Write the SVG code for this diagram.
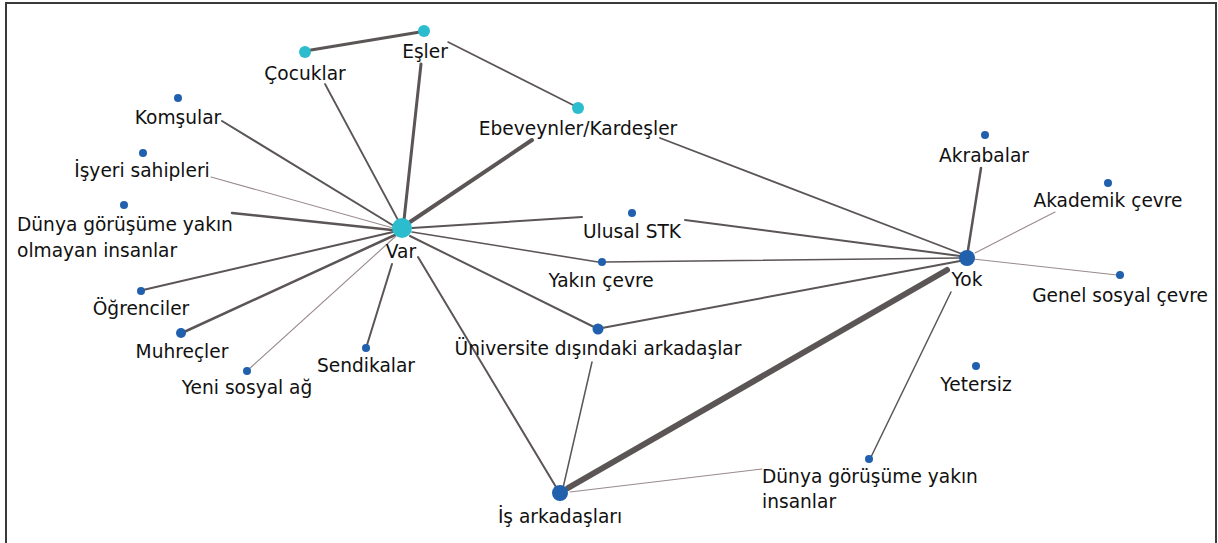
<svg xmlns="http://www.w3.org/2000/svg" width="1218" height="543" viewBox="0 0 1218 543">
<style>
.t{font-family:"DejaVu Sans","Liberation Sans",sans-serif;font-size:18.6px;fill:#111111;text-anchor:middle}
.s{text-anchor:start}
.c{fill:#2bbdcd}
.b{fill:#2060ad}
.e{stroke:#5b5555;fill:none;stroke-linecap:round}
.l{stroke:#9a8a8b}
</style>
<rect x="0" y="0" width="1218" height="543" fill="#ffffff"/>
<path d="M6,545 V3 H1216 V545" fill="none" stroke="#3a3a3a" stroke-width="2"/>
<g id="connectors">
<line class="e" x1="311" y1="50" x2="420" y2="32" stroke-width="3"/>
<line class="e" x1="448" y1="42" x2="575" y2="106" stroke-width="1.6"/>
<line class="e" x1="421" y1="64" x2="404" y2="220" stroke-width="3"/>
<line class="e" x1="325" y1="84" x2="398" y2="220" stroke-width="1.8"/>
<line class="e" x1="532" y1="140" x2="410" y2="222" stroke-width="4"/>
<line class="e" x1="660" y1="138" x2="962" y2="254" stroke-width="1.8"/>
<line class="e" x1="222" y1="121" x2="394" y2="226" stroke-width="2"/>
<line class="e l" x1="211" y1="177" x2="393" y2="228" stroke-width="1.1"/>
<line class="e" x1="232" y1="213" x2="392" y2="230" stroke-width="2.5"/>
<line class="e" x1="143" y1="290" x2="393" y2="232" stroke-width="2"/>
<line class="e" x1="184" y1="332" x2="395" y2="235" stroke-width="2.5"/>
<line class="e l" x1="249" y1="369" x2="396" y2="236" stroke-width="1.1"/>
<line class="e" x1="367" y1="345" x2="392" y2="264" stroke-width="2"/>
<line class="e" x1="412" y1="228" x2="582" y2="217" stroke-width="2"/>
<line class="e" x1="685" y1="220" x2="960" y2="256" stroke-width="2"/>
<line class="e" x1="412" y1="232" x2="598" y2="262" stroke-width="1.6"/>
<line class="e" x1="605" y1="262" x2="960" y2="258" stroke-width="1.6"/>
<line class="e" x1="410" y1="236" x2="594" y2="327" stroke-width="2"/>
<line class="e" x1="602" y1="328" x2="960" y2="261" stroke-width="2"/>
<line class="e" x1="418" y1="257" x2="556" y2="487" stroke-width="2"/>
<line class="e" x1="592" y1="362" x2="563" y2="488" stroke-width="1.5"/>
<line class="e" x1="947" y1="270" x2="568" y2="488" stroke-width="6" stroke="#5e5a5a"/>
<line class="e l" x1="570" y1="492" x2="762" y2="469" stroke-width="1.1"/>
<line class="e" x1="951" y1="292" x2="871" y2="457" stroke-width="1.5"/>
<line class="e" x1="981" y1="168" x2="968" y2="250" stroke-width="2.5"/>
<line class="e l" x1="1055" y1="212" x2="975" y2="253" stroke-width="1.1"/>
<line class="e l" x1="973" y1="259" x2="1117" y2="275" stroke-width="1.1"/>
</g>
<g id="cocuklar"><circle class="c" cx="305" cy="52" r="6"/><text class="t" x="305" y="80">Çocuklar</text></g>
<g id="esler"><circle class="c" cx="424" cy="31" r="6"/><text class="t" x="425" y="58">Eşler</text></g>
<g id="ebeveynler"><circle class="c" cx="578" cy="108" r="6"/><text class="t" x="578" y="135">Ebeveynler/Kardeşler</text></g>
<g id="var"><circle class="c" cx="402" cy="228" r="10"/><text class="t" x="401" y="258">Var</text></g>
<g id="komsular"><circle class="b" cx="178" cy="98" r="4"/><text class="t" x="178" y="124">Komşular</text></g>
<g id="isyeri"><circle class="b" cx="143" cy="153" r="4"/><text class="t" x="142" y="177">İşyeri sahipleri</text></g>
<g id="dunya-olmayan"><circle class="b" cx="124" cy="205" r="4"/><text class="t s" x="17" y="231">Dünya görüşüme yakın</text><text class="t s" x="17" y="257">olmayan insanlar</text></g>
<g id="ogrenciler"><circle class="b" cx="141" cy="291" r="4"/><text class="t" x="141" y="315">Öğrenciler</text></g>
<g id="muhrecler"><circle class="b" cx="181" cy="333" r="5"/><text class="t" x="182" y="358">Muhreçler</text></g>
<g id="yeni-sosyal"><circle class="b" cx="247" cy="371" r="4"/><text class="t" x="247" y="394">Yeni sosyal ağ</text></g>
<g id="sendikalar"><circle class="b" cx="366" cy="348" r="4"/><text class="t" x="366" y="372">Sendikalar</text></g>
<g id="ulusal-stk"><circle class="b" cx="632" cy="213" r="4"/><text class="t" x="632" y="238">Ulusal STK</text></g>
<g id="yakin-cevre"><circle class="b" cx="602" cy="262" r="4"/><text class="t" x="601" y="287">Yakın çevre</text></g>
<g id="universite"><circle class="b" cx="598" cy="329" r="5.5"/><text class="t" x="598" y="355">Üniversite dışındaki arkadaşlar</text></g>
<g id="yok"><circle class="b" cx="967" cy="258" r="8"/><text class="t" x="967" y="286">Yok</text></g>
<g id="akrabalar"><circle class="b" cx="985" cy="135" r="4"/><text class="t" x="984" y="162">Akrabalar</text></g>
<g id="akademik"><circle class="b" cx="1108" cy="183" r="4"/><text class="t" x="1108" y="207">Akademik çevre</text></g>
<g id="genel"><circle class="b" cx="1120" cy="275" r="4"/><text class="t" x="1120" y="302">Genel sosyal çevre</text></g>
<g id="yetersiz"><circle class="b" cx="976" cy="366" r="4"/><text class="t" x="976" y="391">Yetersiz</text></g>
<g id="is-arkadaslari"><circle class="b" cx="560" cy="493" r="8"/><text class="t" x="560" y="523">İş arkadaşları</text></g>
<g id="dunya-yakin"><circle class="b" cx="869" cy="459" r="4"/><text class="t s" x="762" y="483">Dünya görüşüme yakın</text><text class="t s" x="762" y="508">insanlar</text></g>
</svg>
